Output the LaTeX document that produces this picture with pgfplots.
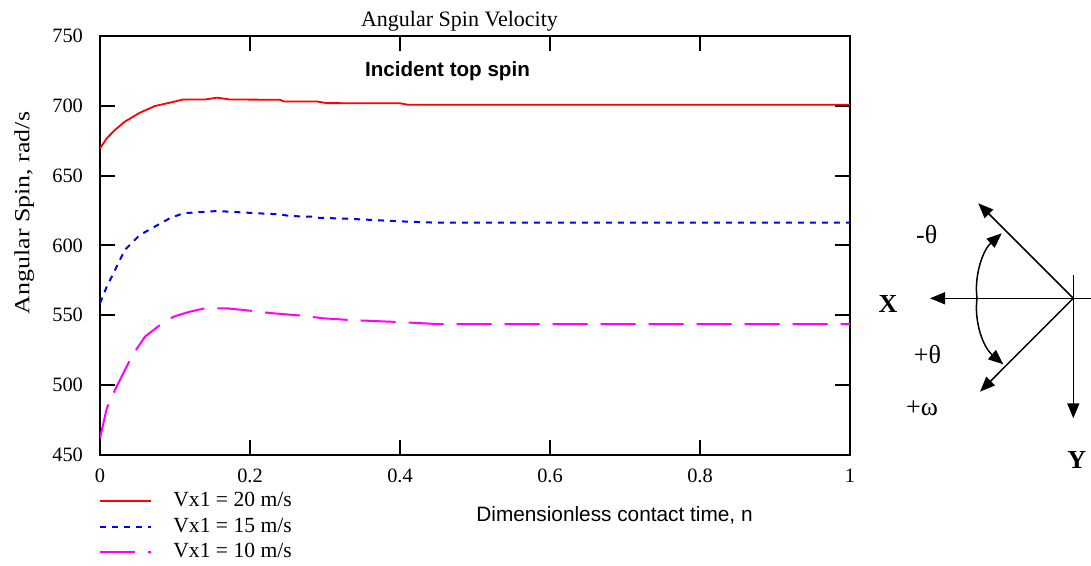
\documentclass[border=0pt]{standalone}
\usepackage{fontspec}
\setmainfont{Liberation Serif}
\setsansfont{Liberation Sans}
\usepackage{graphicx}
\usepackage{pgfplots}
\pgfplotsset{compat=1.18}
\usetikzlibrary{arrows.meta}
\definecolor{myred}{RGB}{255,0,0}
\definecolor{myblue}{RGB}{0,0,255}
\definecolor{mymag}{RGB}{255,0,255}
\begin{document}
\begin{tikzpicture}
\path[use as bounding box] (0,0) rectangle (545.5pt,283pt);
\begin{axis}[
  at={(50pt,55.65pt)}, anchor=south west,
  scale only axis, width=375pt, height=209.35pt,
  xmin=0, xmax=1, ymin=450, ymax=750,
  xtick={0,0.2,0.4,0.6,0.8,1}, ytick={450,500,550,600,650,700,750},
  tick align=inside, major tick length=7.5pt,
  axis line style={line width=1pt},
  every tick/.style={black, line width=1pt},
  /pgf/number format/assume math mode=true,
  tick label style={font=\fontsize{10.2}{12}\selectfont},
  yticklabel style={xshift=-5pt},
  xticklabel style={yshift=-3.5pt},
  every axis title shift=0pt,
  title={Angular Spin Velocity},
  title style={at={(axis description cs:0.4793,1.0215)}, anchor=base, font=\fontsize{11}{13}\selectfont, inner sep=0pt},
  xlabel={Dimensionless contact time, n},
  xlabel style={at={(axis description cs:0.686,-0.160)}, anchor=base, font=\sffamily\fontsize{10.4}{12}\selectfont, inner sep=0pt},
  ylabel={\scalebox{1.2}[1]{Angular Spin, rad/s}},
  ylabel style={at={(axis description cs:-0.0943,0.5773)}, anchor=base, font=\fontsize{10.8}{13}\selectfont, inner sep=0pt},
  legend style={at={(axis description cs:0,0)}, anchor=north west, xshift=-0.5pt, yshift=-17.75pt,
    draw=none, fill=none, inner sep=0pt, row sep=2pt, column sep=9.5pt,
    font=\fontsize{10.8}{13}\selectfont, cells={anchor=west}, nodes={inner sep=1pt}},
  legend cell align=left,
  legend image code/.code={\draw[#1] (0pt,0pt) -- (25.5pt,0pt);},
]
\addplot[myred, line width=0.9pt] coordinates {
(0,669.5) (0.009,676.7) (0.02,682.7) (0.033,688.6) (0.053,695) (0.073,699.8)
(0.093,702.2) (0.111,704.5) (0.14,704.5) (0.156,705.8) (0.173,704.5) (0.24,704.3)
(0.245,703.1) (0.289,703.1) (0.302,701.9) (0.4,701.8) (0.41,700.8) (1,700.8)};
\addlegendentry{Vx1 = 20 m/s}
\addplot[myblue, line width=1pt, dash pattern=on 3pt off 3pt] coordinates {
(0,558.5) (0.009,570.4) (0.02,582.3) (0.033,596.7) (0.053,607.4) (0.073,613.4)
(0.093,619.4) (0.111,623) (0.156,624.6) (0.209,623) (0.24,622.2) (0.253,621)
(0.285,620.5) (0.29,619.8) (0.333,619) (0.4,617.2) (0.45,616.2) (1,616.2)};
\addlegendentry{Vx1 = 15 m/s}
\addplot[mymag, line width=1pt, dash pattern=on 17.5pt off 6.5pt] coordinates {
(0,461.7) (0.009,483.2) (0.02,496.4) (0.031,508.3) (0.042,520.2) (0.06,534.6)
(0.08,542.9) (0.098,548.9) (0.12,552.5) (0.14,554.9) (0.169,554.9) (0.2,553.2)
(0.209,552.5) (0.231,551.3) (0.27,549.6) (0.298,547.7) (0.333,546.5) (0.4,545)
(0.45,543.6) (1,543.6)};
\addlegendentry{Vx1 = 10 m/s}
\node[anchor=base, font=\sffamily\bfseries\fontsize{10.3}{12}\selectfont, inner sep=0pt]
  at (axis description cs:0.4633,0.9021) {Incident top spin};
\end{axis}
\begin{scope}[shift={(0pt,283pt)}, x=0.5pt, y=-0.5pt, line width=0.75pt,
  >={Triangle[length=7.5pt,width=6pt]}]
\draw[->] (1091,298.3) -- (930,298.3);
\draw[->] (1073.3,275) -- (1073.3,418.3);
\draw[->] (1073.3,298.3) -- (978.3,203.3);
\draw[->] (1073.3,298.3) -- (980,391.7);
\draw[<->] (1001.7,233.3) .. controls (983,250) and (974,275) .. (977,298.3)
  .. controls (974,322) and (983,347) .. (1003.3,364.3);
\node[font=\fontsize{13}{15}\selectfont] at (926.7,235) {-θ};
\node[font=\bfseries\fontsize{13}{15}\selectfont] at (888,303.7) {X};
\node[font=\fontsize{13}{15}\selectfont] at (927.5,355) {+θ};
\node[font=\fontsize{13}{15}\selectfont] at (922,408) {+ω};
\node[font=\bfseries\fontsize{13}{15}\selectfont] at (1076.7,460) {Y};
\end{scope}
\end{tikzpicture}
\end{document}
